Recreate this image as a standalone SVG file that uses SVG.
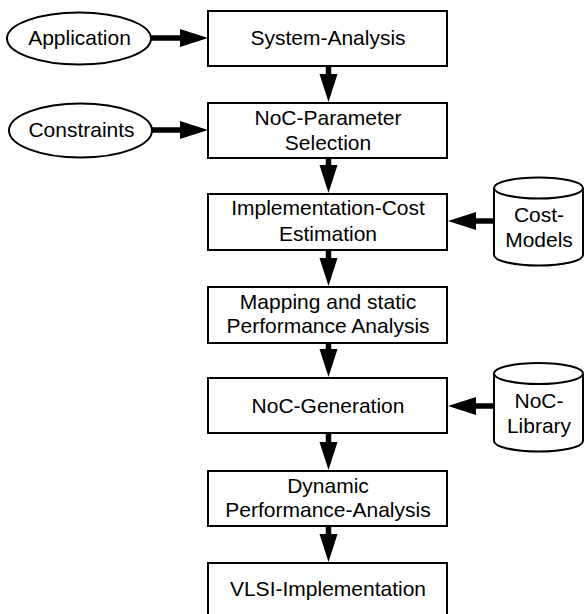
<svg xmlns="http://www.w3.org/2000/svg" width="584" height="614" viewBox="0 0 584 614">
  <style>
    .box { fill: #ffffff; stroke: #000000; stroke-width: 2; }
    .oval { fill: #ffffff; stroke: #000000; stroke-width: 2; }
    .drum { fill: #ffffff; stroke: #000000; stroke-width: 2; }
    .lbl { font-family: "Liberation Sans", Arial, sans-serif; font-size: 21px; fill: #000000; text-anchor: middle; }
    .flow { stroke: #000000; stroke-width: 5.5; fill: none; marker-end: url(#head); }
  </style>
  <defs>
    <marker id="head" markerUnits="userSpaceOnUse" markerWidth="28" markerHeight="18" refX="1" refY="9" orient="auto" overflow="visible">
      <path d="M0,0 L28,9 L0,18 Z" fill="#000000"/>
    </marker>
  </defs>
  <rect width="584" height="614" fill="#ffffff"/>

  <!-- connectors -->
  <g id="connectors">
    <line class="flow" x1="151" y1="38" x2="181" y2="38"/>
    <line class="flow" x1="152" y1="130" x2="181" y2="130"/>
    <line class="flow" x1="494" y1="221" x2="475" y2="221"/>
    <line class="flow" x1="494" y1="406" x2="475" y2="406"/>
    <line class="flow" x1="328.5" y1="66" x2="328.5" y2="75"/>
    <line class="flow" x1="328.5" y1="158" x2="328.5" y2="166"/>
    <line class="flow" x1="328.5" y1="250" x2="328.5" y2="259"/>
    <line class="flow" x1="328.5" y1="343" x2="328.5" y2="350"/>
    <line class="flow" x1="328.5" y1="433" x2="328.5" y2="443"/>
    <line class="flow" x1="328.5" y1="526" x2="328.5" y2="535"/>
  </g>

  <!-- inputs -->
  <g id="application">
    <ellipse class="oval" cx="79" cy="38.5" rx="72" ry="26"/>
    <text class="lbl" x="79.5" y="45">Application</text>
  </g>
  <g id="constraints">
    <ellipse class="oval" cx="80.5" cy="130.5" rx="71.5" ry="27"/>
    <text class="lbl" x="81.5" y="137">Constraints</text>
  </g>

  <!-- process steps -->
  <g id="system-analysis">
    <rect class="box" x="208" y="11" width="239" height="55"/>
    <text class="lbl" x="328" y="45">System-Analysis</text>
  </g>
  <g id="parameter-selection">
    <rect class="box" x="208" y="103" width="239" height="55"/>
    <text class="lbl" x="328" y="125">NoC-Parameter</text>
    <text class="lbl" x="328" y="150">Selection</text>
  </g>
  <g id="cost-estimation">
    <rect class="box" x="208" y="194" width="239" height="56"/>
    <text class="lbl" x="328" y="215">Implementation-Cost</text>
    <text class="lbl" x="328" y="240.5">Estimation</text>
  </g>
  <g id="mapping">
    <rect class="box" x="208" y="287" width="239" height="56"/>
    <text class="lbl" x="328" y="308.5">Mapping and static</text>
    <text class="lbl" x="328" y="332.5">Performance Analysis</text>
  </g>
  <g id="noc-generation">
    <rect class="box" x="208" y="378" width="239" height="55"/>
    <text class="lbl" x="328" y="412.5">NoC-Generation</text>
  </g>
  <g id="dynamic-analysis">
    <rect class="box" x="208" y="471" width="239" height="55"/>
    <text class="lbl" x="328" y="493">Dynamic</text>
    <text class="lbl" x="328" y="516.5">Performance-Analysis</text>
  </g>
  <g id="vlsi-implementation">
    <rect class="box" x="208" y="563" width="239" height="60"/>
    <text class="lbl" x="328" y="596">VLSI-Implementation</text>
  </g>

  <!-- data stores -->
  <g id="cost-models">
    <path class="drum" d="M494,188 L494,255 A44.5,10.5 0 0 0 583,255 L583,188 A44.5,10.5 0 0 0 494,188 Z"/>
    <path class="drum" d="M494,188 A44.5,10.5 0 0 0 583,188" fill="none"/>
    <text class="lbl" x="539" y="221.5">Cost-</text>
    <text class="lbl" x="539" y="246.5">Models</text>
  </g>
  <g id="noc-library">
    <path class="drum" d="M494,373.5 L494,441 A44.5,10.5 0 0 0 583,441 L583,373.5 A44.5,10.5 0 0 0 494,373.5 Z"/>
    <path class="drum" d="M494,373.5 A44.5,10.5 0 0 0 583,373.5" fill="none"/>
    <text class="lbl" x="539" y="408">NoC-</text>
    <text class="lbl" x="539" y="433">Library</text>
  </g>
</svg>
